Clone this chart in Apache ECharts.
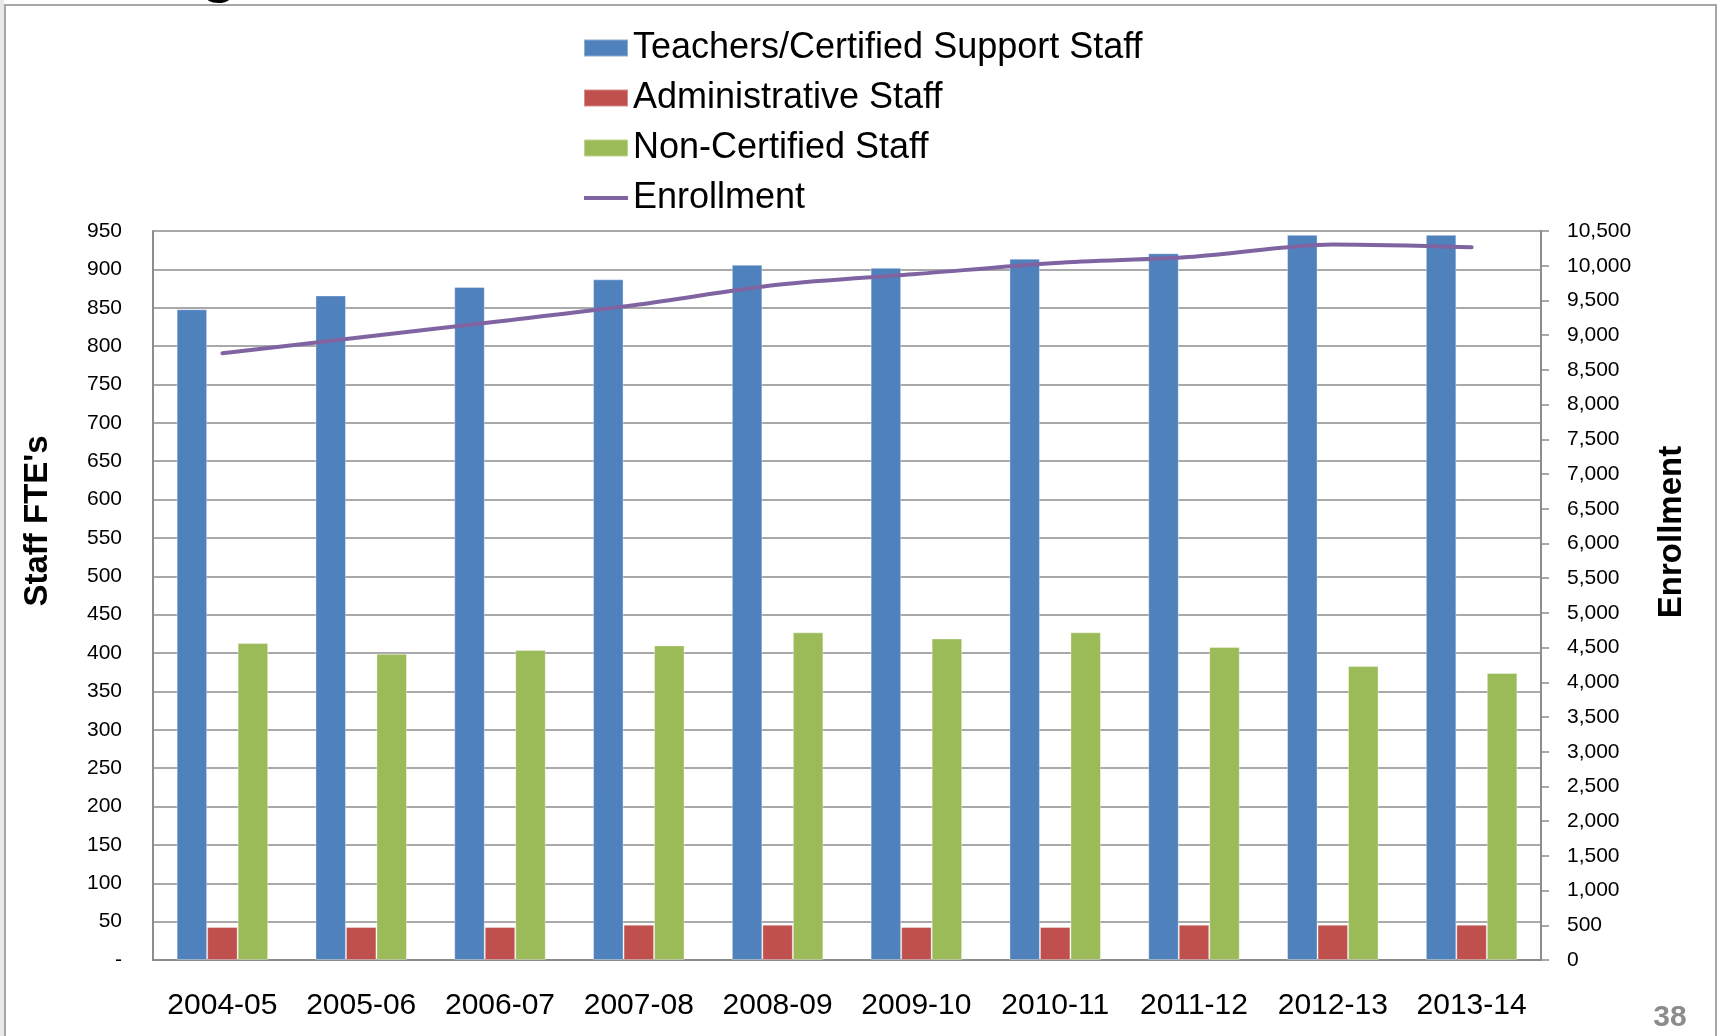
<!DOCTYPE html>
<html>
<head>
<meta charset="utf-8">
<script src="https://cdn.jsdelivr.net/npm/echarts@6/dist/echarts.min.js"></script>
<style>
  html, body { margin: 0; padding: 0; background: #fff; }
  #chart { width: 1721px; height: 1036px; }
</style>
</head>
<body>
<div id="chart"></div>
<script>
  // school years on the x axis
  var years = ['2004-05', '2005-06', '2006-07', '2007-08', '2008-09',
    '2009-10', '2010-11', '2011-12', '2012-13', '2013-14'];

  // staff FTE's (left axis)
  var teachers = [848, 866, 877, 887, 906, 902, 914, 921, 945, 945];
  var admin = [43, 43, 43, 46, 46, 43, 43, 46, 46, 46];
  var nonCertified = [413, 399, 404, 410, 427, 419, 427, 408, 383, 374];

  // enrollment (right axis)
  var enrollment = [8740, 8970, 9200, 9440, 9725, 9880, 10040, 10130, 10305, 10265];

  var font = "'Liberation Sans', Arial, sans-serif";
  var gridGray = '#8c8c8c';
  // flat line icon for the enrollment legend entry (empty moves keep the 44x17 box)
  var lineIcon = 'path://M0,0L0.01,0ZM0,6.5L44,6.5L44,10.5L0,10.5ZM0,17L0.01,17Z';

  var chart = echarts.init(document.getElementById('chart'));

  chart.setOption({
    animation: false,
    textStyle: {fontFamily: font},
    legend: {
      orient: 'vertical',
      left: 578,
      top: 25,
      itemWidth: 44,
      itemHeight: 17,
      itemGap: 14,
      textStyle: {fontSize: 36, lineHeight: 36, color: '#000', fontFamily: font},
      data: [
        {name: 'Teachers/Certified Support Staff', icon: 'rect'},
        {name: 'Administrative Staff', icon: 'rect'},
        {name: 'Non-Certified Staff', icon: 'rect'},
        {name: 'Enrollment', icon: lineIcon}
      ]
    },
    grid: {
      left: 153,
      right: 180,
      top: 231,
      bottom: 76
    },
    xAxis: {
      type: 'category',
      data: years,
      axisTick: {show: false},
      axisLine: {lineStyle: {color: gridGray, width: 2}},
      axisLabel: {
        color: '#000',
        fontSize: 30,
        interval: 0,
        margin: 31
      }
    },
    yAxis: [
      {
        type: 'value',
        min: 0,
        max: 950,
        interval: 50,
        axisLine: {show: true, lineStyle: {color: gridGray, width: 2}},
        axisTick: {show: false},
        splitLine: {lineStyle: {color: gridGray, width: 1.5}},
        axisLabel: {
          color: '#000',
          fontSize: 21,
          margin: 31,
          formatter: function (v) {
            return v === 0 ? '-' : v;
          }
        }
      },
      {
        type: 'value',
        min: 0,
        max: 10500,
        interval: 500,
        position: 'right',
        axisLine: {show: true, lineStyle: {color: gridGray, width: 2}},
        axisTick: {show: true, length: 8, lineStyle: {color: gridGray, width: 1.5}},
        splitLine: {show: false},
        axisLabel: {
          color: '#000',
          fontSize: 21,
          margin: 26
        }
      }
    ],
    series: [
      {
        name: 'Teachers/Certified Support Staff',
        type: 'bar',
        data: teachers,
        barWidth: 30.5,
        barGap: '0%',
        itemStyle: {color: '#4F81BD', borderColor: 'rgba(255,255,255,0.35)', borderWidth: 1}
      },
      {
        name: 'Administrative Staff',
        type: 'bar',
        data: admin,
        barWidth: 30.5,
        barGap: '0%',
        itemStyle: {color: '#C0504D', borderColor: 'rgba(255,255,255,0.35)', borderWidth: 1}
      },
      {
        name: 'Non-Certified Staff',
        type: 'bar',
        data: nonCertified,
        barWidth: 30.5,
        barGap: '0%',
        itemStyle: {color: '#9BBB59', borderColor: 'rgba(255,255,255,0.35)', borderWidth: 1}
      },
      {
        name: 'Enrollment',
        type: 'line',
        yAxisIndex: 1,
        data: enrollment,
        smooth: 0.3,
        symbol: 'none',
        itemStyle: {color: '#8064A2'},
        lineStyle: {color: '#8064A2', width: 4, cap: 'round'}
      }
    ],
    graphic: [
      {
        type: 'rect',
        left: 0,
        top: 0,
        shape: {width: 4, height: 1036},
        style: {fill: '#e8e8e8'}
      },
      {
        // bottom of the slide title's "g", cut off by the page edge
        type: 'text',
        x: 219,
        y: 4,
        style: {
          text: 'g',
          fontSize: 60,
          fontWeight: 'bold',
          fontFamily: font,
          fill: '#000',
          align: 'center',
          verticalAlign: 'bottom'
        }
      },
      {
        type: 'rect',
        shape: {x: 5, y: 5, width: 1711, height: 1100},
        style: {fill: 'none', stroke: '#a6a6a6', lineWidth: 2}
      },
      {
        type: 'text',
        x: 38,
        y: 521,
        rotation: Math.PI / 2,
        style: {
          text: "Staff FTE's",
          fontSize: 33,
          fontWeight: 'bold',
          fontFamily: font,
          fill: '#000',
          align: 'center',
          verticalAlign: 'middle'
        }
      },
      {
        type: 'text',
        x: 1672,
        y: 532,
        rotation: Math.PI / 2,
        style: {
          text: 'Enrollment',
          fontSize: 33,
          fontWeight: 'bold',
          fontFamily: font,
          fill: '#000',
          align: 'center',
          verticalAlign: 'middle'
        }
      },
      {
        type: 'text',
        x: 1670,
        y: 1018,
        style: {
          text: '38',
          fontSize: 30,
          fontWeight: 'bold',
          fontFamily: font,
          fill: '#8c8c8c',
          align: 'center',
          verticalAlign: 'middle'
        }
      }
    ]
  });
</script>
</body>
</html>
